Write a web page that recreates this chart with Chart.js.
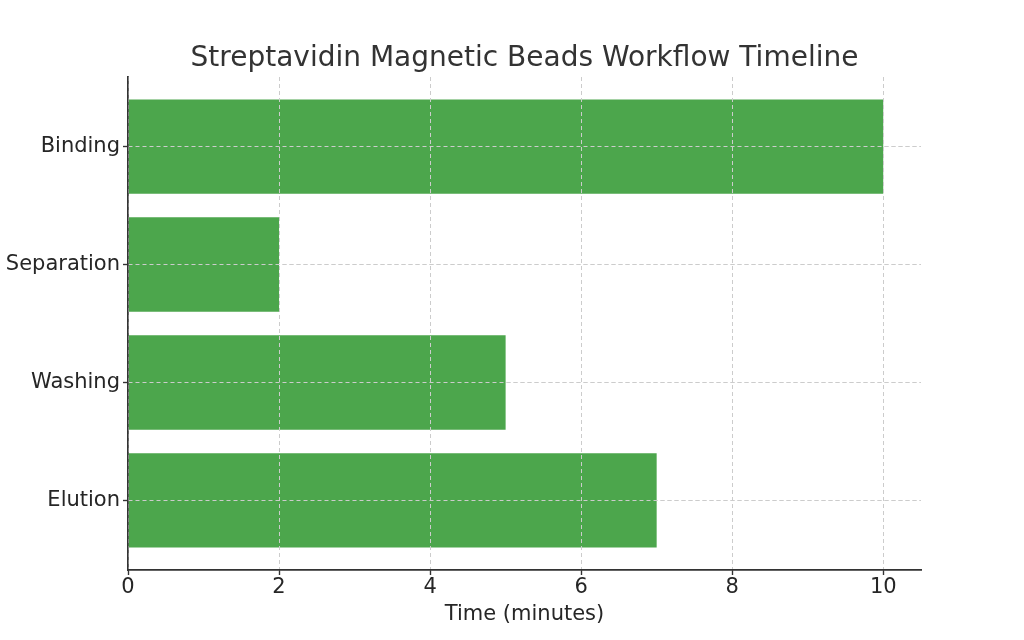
<!DOCTYPE html>
<html lang="en">
  <head>
    <meta charset="UTF-8" />
    <title>Streptavidin Magnetic Beads Workflow Timeline</title>
    <script src="https://cdn.jsdelivr.net/npm/chart.js"></script>
    <style>
      html, body { margin: 0; padding: 0; background: #fff; }
      #wrap { width: 1024px; height: 640px; }
    </style>
  </head>
  <body>
    <div id="wrap"><canvas id="timelineChart"></canvas></div>

    <script>
      // chart data
      const steps = ["Binding", "Separation", "Washing", "Elution"];
      const minutes = [10, 2, 5, 7];
      const xTicks = [0, 2, 4, 6, 8, 10];

      const gridColor = "#cccccc";
      const axisColor = "#333333";
      const textColor = "#262626";

      // redraw grid above the bars, like the original
      const gridOnTop = {
        id: "gridOnTop",
        afterDatasetsDraw(chart) {
          const area = chart.chartArea;
          ["x", "y"].forEach((id) => {
            const s = chart.scales[id];
            s.drawGrid(area);
            if (s.drawBorder) s.drawBorder();
          });
        },
      };

      const ctx = document.getElementById("timelineChart").getContext("2d");
      new Chart(ctx, {
        type: "bar",
        data: {
          datasets: [
            {
              data: steps.map((name, i) => ({ x: minutes[i], y: i })),
              backgroundColor: "#4ca64c",
              borderWidth: 0,
              barPercentage: 1,
              categoryPercentage: 0.8,
            },
          ],
        },
        options: {
          indexAxis: "y",
          responsive: true,
          maintainAspectRatio: false,
          animation: false,
          layout: { padding: { left: 0, right: 103, top: 0, bottom: 0 } },
          plugins: {
            legend: { display: false },
            tooltip: { enabled: false },
            title: {
              display: true,
              fullSize: false,
              text: "Streptavidin Magnetic Beads Workflow Timeline",
              color: "#333333",
              font: { family: "DejaVu Sans", size: 28, weight: "normal" },
              padding: { top: 42, bottom: 1.4 },
            },
          },
          scales: {
            x: {
              type: "linear",
              min: 0,
              max: 10.5,
              offset: false,
              afterBuildTicks: (s) => { s.ticks = xTicks.map((v) => ({ value: v })); },
              afterFit: (s) => { s.height = 70; },
              ticks: { color: textColor, padding: 0, font: { family: "DejaVu Sans", size: 21 } },
              grid: { color: gridColor, offset: false, tickLength: 5, tickColor: axisColor, tickWidth: 1.2 },
              border: { display: true, color: axisColor, width: 1.5, dash: [4, 3] },
              title: {
                display: true,
                text: "Time (minutes)",
                color: textColor,
                font: { family: "DejaVu Sans", size: 21 },
                padding: { top: 0, bottom: 13 },
              },
            },
            y: {
              type: "linear",
              reverse: true,
              min: -0.59,
              max: 3.59,
              offset: false,
              afterBuildTicks: (s) => { s.ticks = steps.map((n, i) => ({ value: i })); },
              afterFit: (s) => { s.width = 128; },
              ticks: {
                color: textColor,
                padding: 3,
                font: { family: "DejaVu Sans", size: 21 },
                callback: (v) => steps[v],
              },
              grid: { color: gridColor, offset: false, tickLength: 5, tickColor: axisColor, tickWidth: 1.2 },
              border: { display: true, color: axisColor, width: 1.5, dash: [4, 3] },
            },
          },
        },
        plugins: [gridOnTop],
      });
    </script>
  </body>
</html>
